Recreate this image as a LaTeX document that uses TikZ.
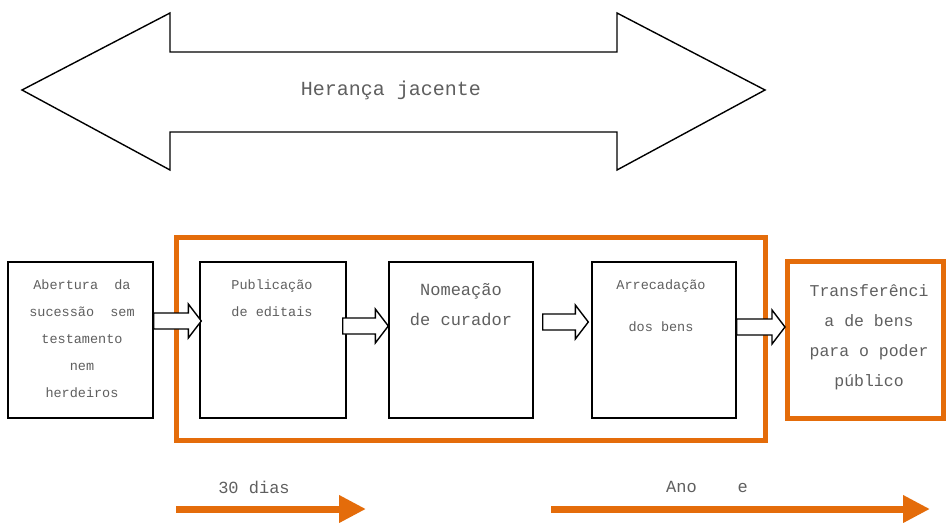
\documentclass[tikz,border=0pt]{standalone}
\usepackage{fontspec}
\setmainfont{Liberation Mono}
\usetikzlibrary{arrows.meta,calc}
\definecolor{org}{RGB}{228,108,10}
\definecolor{txt}{RGB}{95,95,95}
\tikzset{
  box/.style={draw=black, line width=1.4pt, fill=white, inner sep=0pt},
  obox/.style={draw=org, line width=5pt, inner sep=0pt},
  lbl/.style={text=txt, align=center, inner sep=0pt},
  blockarr/.style={draw=black, line width=1.4pt, fill=white, line join=miter},
  timearr/.style={draw=org, line width=7pt, -{Triangle[length=27pt,width=26pt]}},
}
% #1 from node, #2 to node, #3 vertical offset (up), #4 start shift, #5 tip shift
\newcommand\blockarrow[5]{%
  \draw[blockarr] ([xshift=#4,yshift=#3+8]#1.east) -- ([xshift=#5-13,yshift=#3+8]#2.west)
    -- ([xshift=#5-13,yshift=#3+17]#2.west) -- ([xshift=#5,yshift=#3]#2.west)
    -- ([xshift=#5-13,yshift=#3-17]#2.west) -- ([xshift=#5-13,yshift=#3-8]#2.west)
    -- ([xshift=#4,yshift=#3-8]#1.east) -- cycle;}
\begin{document}
\begin{tikzpicture}[x=1pt,y=-1pt]
\path[fill=white] (0,0) rectangle (947,522);
\useasboundingbox (0,0) rectangle (947,522);
% big double arrow
\draw[line width=1.4pt, line join=miter]
  (22,90) -- (170,13) -- (170,52) -- (617,52) -- (617,13) -- (765,90)
  -- (617,170) -- (617,132) -- (170,132) -- (170,170) -- cycle;
\node[lbl, font=\fontsize{20}{24}\selectfont] (heranca) at (391,90) {Herança jacente};
% orange frame
\node[obox, minimum width=589, minimum height=203] (frame) at (470.5,338.5) {};
% boxes
\node[box, minimum width=145, minimum height=156] (b1) at (80.5,340) {};
\node[box, minimum width=146, minimum height=156] (b2) at (273,340) {};
\node[box, minimum width=144, minimum height=156] (b3) at (461,340) {};
\node[box, minimum width=144, minimum height=156] (b4) at (664,340) {};
\node[obox, fill=white, minimum width=156, minimum height=157] (b5) at (865.5,340) {};
% texts
\node[lbl, font=\fontsize{13.5}{27}\selectfont] (t1) at (82,339)
  {Abertura\ \ da\\sucessão\ \ sem\\testamento\\nem\\herdeiros};
\node[lbl, font=\fontsize{13.5}{27}\selectfont] (t2) at (272,298) {Publicação\\de editais};
\node[lbl, font=\fontsize{17}{30}\selectfont] (t3) at (461,305) {Nomeação\\de curador};
\node[lbl, font=\fontsize{13.5}{42}\selectfont] (t4) at (661,306) {Arrecadação\\dos bens};
\node[lbl, font=\fontsize{16.5}{30}\selectfont] (t5) at (869,337)
  {Transferênci\\a de bens\\para o poder\\público};
% block arrows
\blockarrow{b1}{b2}{19}{0}{2}
\blockarrow{b2}{b3}{14}{-4}{0}
\blockarrow{b3}{b4}{18}{9}{-3}
\blockarrow{b4}{b5}{13}{0}{0}
% time arrows
\coordinate (s1) at (176,509);
\coordinate (e1) at (366,509);
\coordinate (s2) at (551,509);
\coordinate (e2) at (930,509);
\draw[timearr] (s1) -- (e1);
\draw[timearr] (s2) -- (e2);
\node[lbl, font=\fontsize{17}{20}\selectfont] (d30) at (254,487) {30 dias};
\node[lbl, font=\fontsize{17}{20}\selectfont, anchor=west] (ano) at (666,487) {Ano\ \ \ \ e};
\end{tikzpicture}
\end{document}
